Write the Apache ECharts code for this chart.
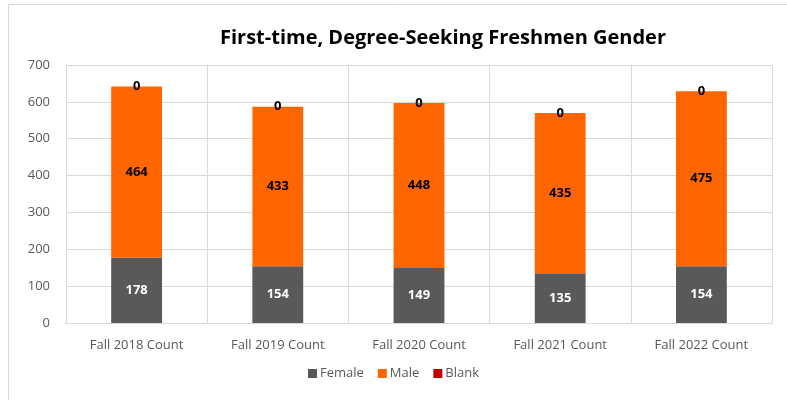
<!DOCTYPE html>
<html>
<head>
<meta charset="utf-8">
<script src="https://cdn.jsdelivr.net/npm/echarts@6/dist/echarts.min.js"></script>
<style>
  html, body { margin: 0; padding: 0; background: #fff; }
  #chart { width: 787px; height: 400px; }
</style>
</head>
<body>
<div id="chart"></div>
<script>
var categories = ['Fall 2018 Count', 'Fall 2019 Count', 'Fall 2020 Count', 'Fall 2021 Count', 'Fall 2022 Count'];
var female = [178, 154, 149, 135, 154];
var male = [464, 433, 448, 435, 475];
var blank = [0, 0, 0, 0, 0];
var yTicks = { min: 0, max: 700, interval: 100 };

var font = 'Open Sans';

var chart = echarts.init(document.getElementById('chart'));

function seriesFor(name, data, color, labelColor, pos) {
  return {
    name: name,
    type: 'bar',
    stack: 'total',
    data: data,
    barWidth: '36%',
    itemStyle: { color: color },
    label: {
      show: true,
      position: pos,
      color: labelColor,
      fontFamily: font,
      fontWeight: 'bold',
      fontSize: 13
    }
  };
}

var option = {
  animation: false,
  textStyle: { fontFamily: font },
  title: {
    text: 'First-time, Degree-Seeking Freshmen Gender',
    left: 438,
    top: 23,
    textAlign: 'center',
    textStyle: { fontFamily: font, fontSize: 20, fontWeight: 'bold', color: '#000' }
  },
  legend: {
    bottom: 15,
    left: 'center',
    itemWidth: 9,
    itemHeight: 9,
    itemGap: 14,
    icon: 'rect',
    textStyle: { fontFamily: font, fontSize: 13, color: '#595959', padding: [0, 0, 0, -2] },
    data: ['Female', 'Male', 'Blank']
  },
  grid: { left: 66, right: 15, top: 65, bottom: 77 },
  xAxis: {
    type: 'category',
    data: categories,
    axisLine: { lineStyle: { color: '#d9d9d9' } },
    axisTick: { show: false },
    splitLine: { show: true, lineStyle: { color: '#d9d9d9' } },
    axisLabel: { color: '#595959', fontSize: 13, margin: 16, interval: 0 }
  },
  yAxis: {
    type: 'value',
    min: yTicks.min,
    max: yTicks.max,
    interval: yTicks.interval,
    axisLine: { show: false },
    axisTick: { show: false },
    splitLine: { lineStyle: { color: '#d9d9d9' } },
    axisLabel: { color: '#595959', fontSize: 13, margin: 16 }
  },
  graphic: [{
    type: 'rect',
    shape: { x: 8.5, y: 4.5, width: 800, height: 420 },
    style: { fill: 'none', stroke: '#d9d9d9', lineWidth: 1 },
    silent: true
  }],
  series: [
    seriesFor('Female', female, '#595959', '#fff', 'inside'),
    seriesFor('Male', male, '#FF6600', '#000', 'inside'),
    seriesFor('Blank', blank, '#C00000', '#000', 'inside')
  ]
};

chart.setOption(option);
</script>
</body>
</html>
